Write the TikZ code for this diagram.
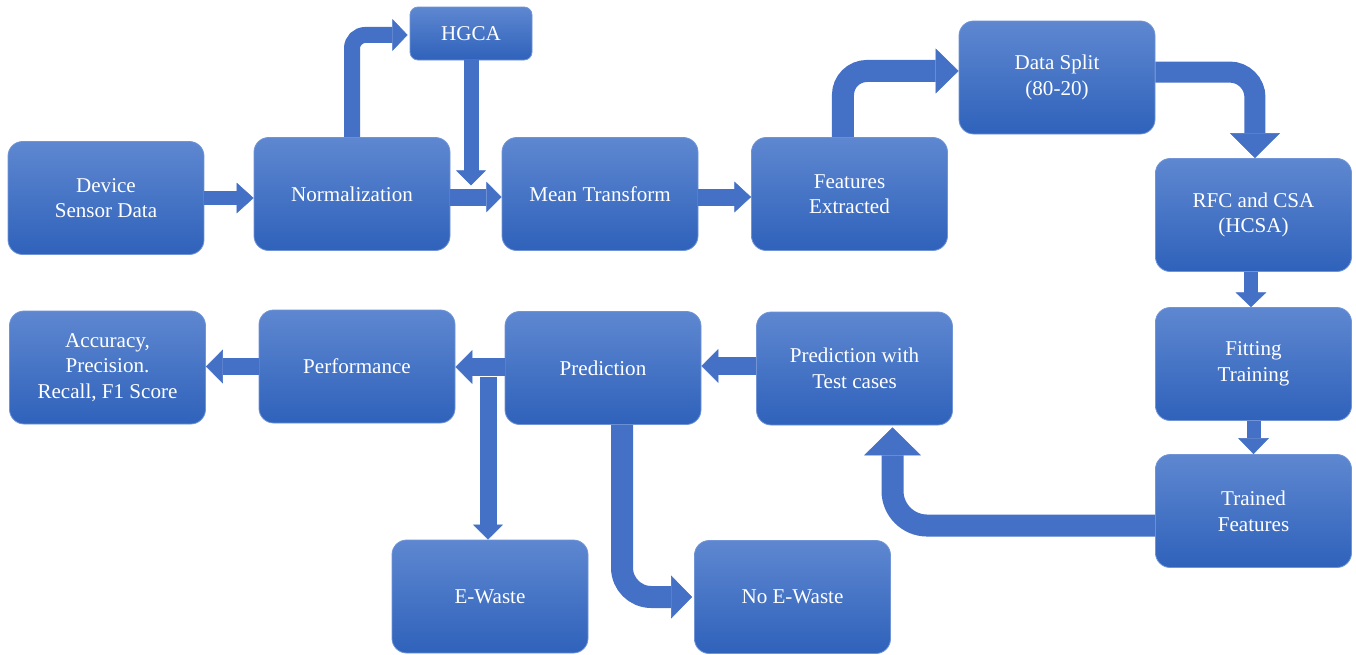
\documentclass[tikz,border=0pt]{standalone}
\usepackage{fontspec}
\setmainfont{Liberation Serif}
\newfontfamily\boxfont{Liberation Serif}
\usetikzlibrary{arrows.meta}
\definecolor{boxtop}{RGB}{94,135,208}
\definecolor{boxbot}{RGB}{47,98,187}
\definecolor{boxedge}{RGB}{112,148,214}
\definecolor{arrowcol}{RGB}{68,112,198}
\tikzset{
  box/.style={rectangle, rounded corners=11pt, draw=boxedge, line width=0.6pt,
    top color=boxtop, bottom color=boxbot, text=white, align=center,
    minimum width=147pt, minimum height=84.75pt, inner sep=2pt,
    font=\boxfont\fontsize{15.8}{19.2}\selectfont},
  smallbox/.style={box, rounded corners=6pt, minimum width=91.5pt, minimum height=39.75pt},
  arr/.style n args={3}{draw=arrowcol, line width=#1,
    -{Triangle[width=#2,length=#3,line width=0.4pt]}},
}
\begin{document}
\begin{tikzpicture}[x=0.75pt,y=-0.75pt]
\useasboundingbox (0,0) rectangle (1356,654);

% boxes
\node[box] (dev) at (106,198) {Device\\Sensor Data};
\node[box] (norm) at (352,194) {Normalization};
\node[smallbox] (hgca) at (471,33.5) {HGCA};
\node[box] (mean) at (600,194) {Mean Transform};
\node[box] (feat) at (849.5,194) {Features\\Extracted};
\node[box] (split) at (1057,77.5) {Data Split\\(80-20)};
\node[box] (rfc) at (1253.5,215) {RFC and CSA\\(HCSA)};
\node[box] (fit) at (1253.5,364) {Fitting\\Training};
\node[box] (trained) at (1253.5,511) {Trained\\Features};
\node[box] (predtest) at (854.5,368.5) {Prediction with\\Test cases};
\node[box] (pred) at (603,368) {Prediction};
\node[box] (perf) at (357,366.5) {Performance};
\node[box] (acc) at (107.5,367.5) {Accuracy,\\Precision.\\Recall, F1 Score};
\node[box] (ew) at (490,596.5) {E-Waste};
\node[box] (noew) at (792.5,597) {No E-Waste};

% connectors
\draw[arr={10.5pt}{23pt}{12.75pt}] (dev.east) -- (dev.east -| norm.west);
\draw[arr={12.75pt}{23pt}{11.5pt}] ([yshift=-2.25pt]norm.east) -- ([yshift=-2.25pt]norm.east -| mean.west);
\draw[arr={12.75pt}{23pt}{12.5pt}] ([yshift=-2.25pt]mean.east) -- ([yshift=-2.25pt]mean.east -| feat.west);
\draw[arr={12pt}{24pt}{11.5pt}, rounded corners=10pt] (norm.north) |- ([xshift=-1.5pt,yshift=-1.1pt]hgca.west);
\draw[arr={11.25pt}{22.5pt}{11.25pt}] (hgca.south) -- ++(0,125);
\draw[arr={16.5pt}{33.75pt}{17.25pt}, rounded corners=18pt] ([xshift=-4.9pt]feat.north) |- ([yshift=4.9pt]split.west);
\draw[arr={15.75pt}{37.5pt}{18.75pt}, rounded corners=19pt] ([yshift=4.1pt]split.east) -| ([xshift=1.1pt]rfc.north);
\draw[arr={10.5pt}{23pt}{11pt}] ([xshift=-1.9pt]rfc.south) -- ([xshift=-1.9pt]fit.north);
\draw[arr={10.5pt}{23pt}{12pt}] (fit.south) -- (trained.north);
\draw[arr={16.5pt}{42.75pt}{21pt}, rounded corners=26pt] ([yshift=-10.9pt]trained.west) -| ([xshift=28.5pt,yshift=-1.5pt]predtest.south);
\draw[arr={13.5pt}{25.5pt}{12.75pt}] ([yshift=1.9pt]predtest.west) -- ([yshift=1.9pt]predtest.west -| pred.east);
\draw[arr={13.5pt}{25.5pt}{12.75pt}] ([yshift=0.75pt]pred.west) -- ([yshift=0.75pt]pred.west -| perf.east);
\draw[arr={12.75pt}{25.5pt}{12.75pt}] (perf.west) -- (perf.west -| acc.east);
\coordinate (ewtop) at (488,377);
\draw[arr={12.75pt}{22.5pt}{11.25pt}] (ewtop) -- (ewtop |- ew.north);
\draw[arr={16.5pt}{32.25pt}{15.75pt}, rounded corners=22pt] ([xshift=14.25pt]pred.south) |- ([xshift=-1.5pt]noew.west);
\end{tikzpicture}
\end{document}
